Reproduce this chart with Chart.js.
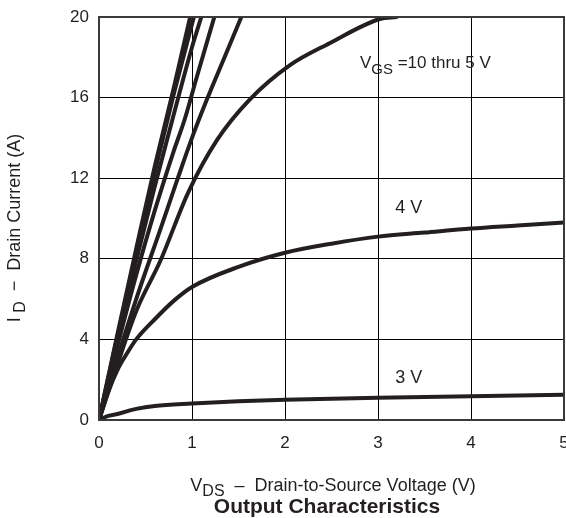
<!DOCTYPE html>
<html>
<head>
<meta charset="utf-8">
<script src="https://cdn.jsdelivr.net/npm/chart.js@4"></script>
<style>
  html, body { margin: 0; padding: 0; background: #fff; }
  #wrap { position: relative; width: 566px; height: 518px; }
</style>
</head>
<body>
<div id="wrap"><canvas id="chart"></canvas></div>
<script>
// curve data: VDS (V) and ID (A)
const vds10 = [0, 0.2, 0.4, 0.6, 0.8, 0.98];
const id10  = [0, 4.3, 8.5, 12.6, 16.4, 20];
const vds9  = [0, 0.2, 0.4, 0.6, 0.8, 1.02];
const id9   = [0, 4.2, 8.3, 12.3, 16.1, 20];
const vds8  = [0, 0.2, 0.4, 0.6, 0.8, 1.0, 1.1];
const id8   = [0, 4.0, 7.9, 11.6, 15.1, 18.5, 20];
const vds7  = [0, 0.2, 0.4, 0.6, 0.8, 0.92, 1.05, 1.24];
const id7   = [0, 3.7, 7.2, 10.4, 13.3, 14.9, 17, 20];
const vds6  = [0, 0.2, 0.4, 0.67, 0.84, 1.0, 1.16, 1.35, 1.53];
const id6   = [0, 3.1, 6.0, 9.6, 11.9, 14.0, 15.9, 18, 20];
const vds5  = [0, 0.19, 0.405, 0.66, 0.96, 1.27, 1.62, 2.05, 2.48, 3.02, 3.2];
const id5   = [0, 2.65, 5.46, 7.9, 11.3, 13.9, 15.9, 17.6, 18.7, 19.9, 20];
const vds4  = [0, 0.1, 0.2, 0.3, 0.4, 0.6, 0.8, 1.0, 1.5, 2.0, 2.5, 3.0, 3.5, 4.0, 4.5, 5.0];
const id4   = [0, 1.4, 2.5, 3.3, 4.0, 5.0, 5.9, 6.6, 7.6, 8.3, 8.75, 9.1, 9.3, 9.5, 9.65, 9.8];
const vds3  = [0, 0.1, 0.2, 0.4, 0.6, 1.0, 1.5, 2.0, 3.0, 4.0, 5.0];
const id3   = [0, 0.2, 0.3, 0.55, 0.7, 0.82, 0.93, 1.0, 1.1, 1.18, 1.25];

const xTicks = [0, 1, 2, 3, 4, 5];
const yTicks = [0, 4, 8, 12, 16, 20];

const curveLabels = [
  { x: 2.806, y: 17.45, main: "V", sub: "GS", rest: " =10 thru 5 V" },
  { x: 3.33, y: 10.25, main: "4 V" },
  { x: 3.33, y: 1.85, main: "3 V" }
];

const FONT = "'Liberation Sans', Arial, Helvetica, sans-serif";
const INK = "#231f20";

function pts(xs, ys) {
  return xs.map((x, i) => ({ x: x, y: ys[i] }));
}

const curves = [
  [vds10, id10], [vds9, id9], [vds8, id8], [vds7, id7],
  [vds6, id6], [vds5, id5], [vds4, id4], [vds3, id3]
];

const datasets = curves.map(([xs, ys]) => ({
  data: pts(xs, ys),
  borderColor: INK,
  borderWidth: 4,
  pointRadius: 0,
  fill: false,
  cubicInterpolationMode: "monotone",
  borderCapStyle: "round",
  borderJoinStyle: "round"
}));

// text with a lowered subscript part
function subText(ctx, y, main, sub, rest, size, subSize, drop) {
  ctx.font = size + "px " + FONT;
  const w1 = ctx.measureText(main).width;
  const w3 = ctx.measureText(rest).width;
  ctx.font = subSize + "px " + FONT;
  const w2 = ctx.measureText(sub).width;
  return { width: w1 + w2 + w3, draw(sx) {
    ctx.textAlign = "left";
    ctx.font = size + "px " + FONT;
    ctx.fillText(main, sx, y);
    ctx.font = subSize + "px " + FONT;
    ctx.fillText(sub, sx + w1, y + drop);
    ctx.font = size + "px " + FONT;
    ctx.fillText(rest, sx + w1 + w2, y);
  } };
}

const decor = {
  id: "decor",
  afterDraw(chart) {
    const { ctx, chartArea, scales } = chart;
    const xs = scales.x, ys = scales.y;
    ctx.save();
    // frame
    ctx.strokeStyle = "#3a3a3a";
    ctx.lineWidth = 2;
    ctx.strokeRect(chartArea.left, chartArea.top,
      chartArea.right - chartArea.left, chartArea.bottom - chartArea.top);

    // curve labels
    ctx.fillStyle = INK;
    ctx.textBaseline = "alphabetic";
    curveLabels.forEach((l) => {
      const px = xs.getPixelForValue(l.x);
      const py = ys.getPixelForValue(l.y);
      if (l.sub) {
        subText(ctx, py, l.main, l.sub, l.rest, 17, 15, 6).draw(px);
      } else {
        ctx.font = "18px " + FONT;
        ctx.textAlign = "center";
        ctx.fillText(l.main, px, py);
      }
    });

    // x axis title
    const xt = subText(ctx, 491, "V", "DS", "  \u2013  Drain-to-Source Voltage (V)", 18, 16, 5);
    xt.draw(333 - xt.width / 2);

    // chart title
    ctx.font = "bold 21px " + FONT;
    ctx.textAlign = "center";
    ctx.fillText("Output Characteristics", 327, 513);

    // y axis title, rotated
    ctx.translate(20, 228);
    ctx.rotate(-Math.PI / 2);
    const yt = subText(ctx, 0, "I", " D", "  \u2212  Drain Current (A)", 18, 16, 5);
    yt.draw(-yt.width / 2);
    ctx.restore();
  }
};

new Chart(document.getElementById("chart"), {
  type: "line",
  data: { datasets },
  options: {
    responsive: true,
    maintainAspectRatio: false,
    animation: false,
    events: [],
    layout: { padding: { top: 17, right: 2, left: 0, bottom: 0 } },
    plugins: {
      legend: { display: false },
      tooltip: { enabled: false }
    },
    scales: {
      x: {
        type: "linear",
        min: 0,
        max: 5,
        afterBuildTicks: (axis) => { axis.ticks = xTicks.map((v) => ({ value: v })); },
        afterFit: (axis) => { axis.height = 98; axis.paddingLeft = 0; axis.paddingRight = 0; },
        grid: { color: "#000", lineWidth: 1, drawTicks: false },
        border: { display: false },
        ticks: { color: INK, font: { family: FONT, size: 17 }, padding: 13, maxRotation: 0 }
      },
      y: {
        type: "linear",
        min: 0,
        max: 20,
        afterBuildTicks: (axis) => { axis.ticks = yTicks.map((v) => ({ value: v })); },
        afterFit: (axis) => { axis.width = 99; axis.paddingTop = 0; axis.paddingBottom = 0; },
        grid: { color: "#000", lineWidth: 1, drawTicks: false },
        border: { display: false },
        ticks: { color: INK, font: { family: FONT, size: 17 }, padding: 10 }
      }
    }
  },
  plugins: [decor]
});
</script>
</body>
</html>
